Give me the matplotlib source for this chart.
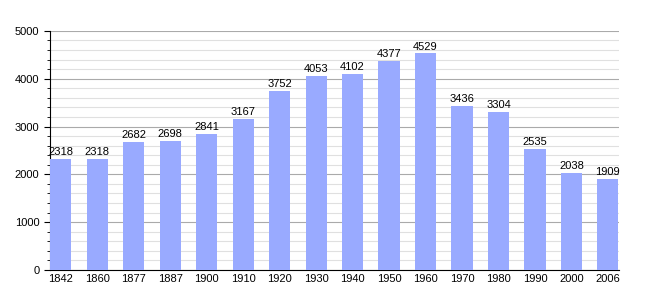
import matplotlib.pyplot as plt
from matplotlib.ticker import MultipleLocator

plt.rcParams['font.family'] = ['Liberation Sans', 'DejaVu Sans']

years = ['1842', '1860', '1877', '1887', '1900', '1910', '1920', '1930',
         '1940', '1950', '1960', '1970', '1980', '1990', '2000', '2006']
population = [2318, 2318, 2682, 2698, 2841, 3167, 3752, 4053,
              4102, 4377, 4529, 3436, 3304, 2535, 2038, 1909]

fig = plt.figure(figsize=(6.48, 3.0), dpi=100)
ax = fig.add_axes([0.077, 0.1, 0.878, 0.797])

x = range(len(years))
bars = ax.bar(x, population, width=0.58, color='#99aaff', zorder=3)
for xi, v in zip(x, population):
    ax.text(xi, v + 40, str(v), ha='center', va='bottom', fontsize=8, zorder=4)

ax.set_xlim(-0.3, len(years) - 0.7)
ax.set_ylim(0, 5000)
ax.set_xticks(list(x))
ax.set_xticklabels(years)
ax.yaxis.set_major_locator(MultipleLocator(1000))
ax.yaxis.set_minor_locator(MultipleLocator(200))
ax.grid(axis='y', which='major', color='#aaaaaa', linewidth=0.8, zorder=0)
ax.grid(axis='y', which='minor', color='#e0e0e0', linewidth=0.8, zorder=0)
ax.tick_params(axis='x', length=0, labelsize=8, pad=3)
ax.tick_params(axis='y', which='major', length=4, labelsize=8, direction='out')
ax.tick_params(axis='y', which='minor', length=2, direction='out')
ax.spines['top'].set_visible(False)
ax.spines['right'].set_visible(False)

plt.savefig('out.png', dpi=100)
